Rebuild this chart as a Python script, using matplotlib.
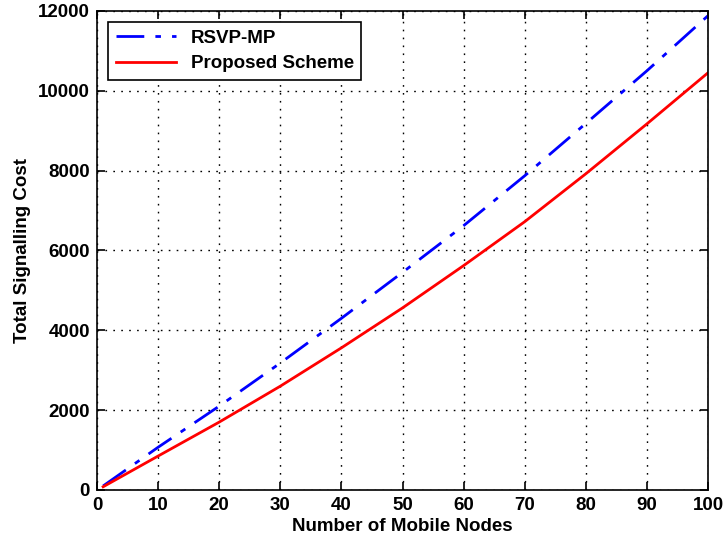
import matplotlib
matplotlib.use('Agg')
import matplotlib.pyplot as plt

nodes = [1, 10, 20, 30, 40, 50, 60, 70, 80, 90, 100]
rsvp_mp = [100, 1070, 2100, 3180, 4300, 5450, 6620, 7870, 9180, 10500, 11880]
proposed = [80, 850, 1700, 2600, 3560, 4560, 5620, 6720, 7920, 9170, 10450]

plt.rcParams['font.family'] = ['Liberation Sans', 'DejaVu Sans']
plt.rcParams['font.weight'] = 'bold'

fig = plt.figure(figsize=(7.24, 5.42), dpi=100)
ax = fig.add_axes([0.134, 0.096, 0.844, 0.884])

ax.plot(nodes, rsvp_mp, color='blue', linestyle=(0, (10, 4, 2, 4)), linewidth=2, label='RSVP-MP')
ax.plot(nodes, proposed, color='red', linestyle='-', linewidth=2, label='Proposed Scheme')

ax.set_xlim(0, 100)
ax.set_ylim(0, 12000)
ax.set_xticks(range(0, 101, 10))
ax.set_yticks(range(0, 12001, 2000))
ax.grid(True, color='black', linestyle=(0, (1.2, 4.5)), linewidth=1)
ax.tick_params(direction='in', top=True, right=True, length=6, width=1.2, labelsize=13.5, pad=5)
for lbl in ax.get_xticklabels() + ax.get_yticklabels():
    lbl.set_fontweight('bold')
for s in ax.spines.values():
    s.set_linewidth(1.2)

ax.set_xlabel('Number of Mobile Nodes', fontsize=13.5, fontweight='bold', labelpad=3)
ax.set_ylabel('Total Signalling Cost', fontsize=13.5, fontweight='bold', labelpad=5)

leg = ax.legend(loc='upper left', fontsize=13.5, fancybox=False, framealpha=1,
                edgecolor='black', handlelength=3.2, borderaxespad=0.6,
                labelspacing=0.45)
leg.get_frame().set_linewidth(1.2)

fig.savefig('out.png', dpi=100)
